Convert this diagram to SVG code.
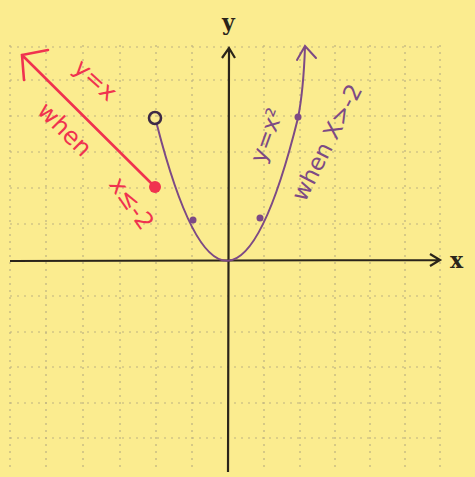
<svg xmlns="http://www.w3.org/2000/svg" width="475" height="477" viewBox="0 0 475 477">
<style>
.grid line{stroke:#bdb282;stroke-width:1.2;stroke-dasharray:2 5}
.axis{stroke:#2a241a;stroke-width:2.2;fill:none}
.red{stroke:#f0324f;stroke-width:2.6;fill:none;stroke-linecap:round}
.pur{stroke:#7d4a85;stroke-width:2;fill:none;stroke-linecap:round}
.rt{fill:#f0324f;font-family:"DejaVu Sans",sans-serif;font-size:24px}
.pt{fill:#7d4a85;font-family:"DejaVu Sans",sans-serif;font-size:23px}
.lab{fill:#2a241a;font-family:"DejaVu Serif",serif;font-weight:bold;font-size:22px}
</style>
<rect width="475" height="477" fill="#fbec8f"/>
<g class="grid" id="grid">
<line x1="10" y1="45" x2="10" y2="470"/><line x1="46" y1="45" x2="46" y2="470"/><line x1="83" y1="45" x2="83" y2="470"/><line x1="120" y1="45" x2="120" y2="470"/><line x1="156" y1="45" x2="156" y2="470"/><line x1="192" y1="45" x2="192" y2="470"/><line x1="264" y1="45" x2="264" y2="470"/><line x1="300" y1="45" x2="300" y2="470"/><line x1="335" y1="45" x2="335" y2="470"/><line x1="370" y1="45" x2="370" y2="470"/><line x1="405" y1="45" x2="405" y2="470"/><line x1="440" y1="45" x2="440" y2="470"/>
<line x1="10" y1="47" x2="440" y2="47"/><line x1="10" y1="80" x2="440" y2="80"/><line x1="10" y1="116" x2="440" y2="116"/><line x1="10" y1="152" x2="440" y2="152"/><line x1="10" y1="188" x2="440" y2="188"/><line x1="10" y1="224" x2="440" y2="224"/><line x1="10" y1="296" x2="440" y2="296"/><line x1="10" y1="332" x2="440" y2="332"/><line x1="10" y1="367" x2="440" y2="367"/><line x1="10" y1="403" x2="440" y2="403"/><line x1="10" y1="438" x2="440" y2="438"/>
</g>
<g id="axes">
<path class="axis" d="M228,472 L229,48 M222,58 L229,48 L235,58"/>
<path class="axis" d="M10,261 L440,260 M430,254 L440,260 L430,266"/>
<text class="lab" x="222" y="30">y</text>
<text class="lab" x="450" y="268">x</text>
</g>
<g id="red-line">
<path class="red" d="M155,187 L22,55 M48,50 L22,55 L24,80"/>
<circle cx="155" cy="187" r="6" fill="#f0324f"/>
<text class="rt" transform="translate(90,86) rotate(42)" text-anchor="middle">y=x</text>
<text class="rt" transform="translate(59,135) rotate(45)" text-anchor="middle">when</text>
<text class="rt" transform="translate(125,208) rotate(55)" text-anchor="middle">x≤-2</text>
</g>
<g id="parabola">
<path class="pur" d="M157,125 Q228,400 298,118 C302,98 304,75 305,47 M297,60 L305,46 L316,58"/>
<circle cx="155" cy="118" r="6" fill="none" stroke="#3d2a45" stroke-width="2.6"/>
<circle cx="193" cy="220" r="3.5" fill="#7d4a85"/>
<circle cx="260" cy="218" r="3.5" fill="#7d4a85"/>
<circle cx="298" cy="117" r="3.5" fill="#7d4a85"/>
<text class="pt" transform="translate(274,138) rotate(-70)" text-anchor="middle">y=x²</text>
<text class="pt" transform="translate(334,146) rotate(-63)" text-anchor="middle">when X&gt;-2</text>
</g>
</svg>
